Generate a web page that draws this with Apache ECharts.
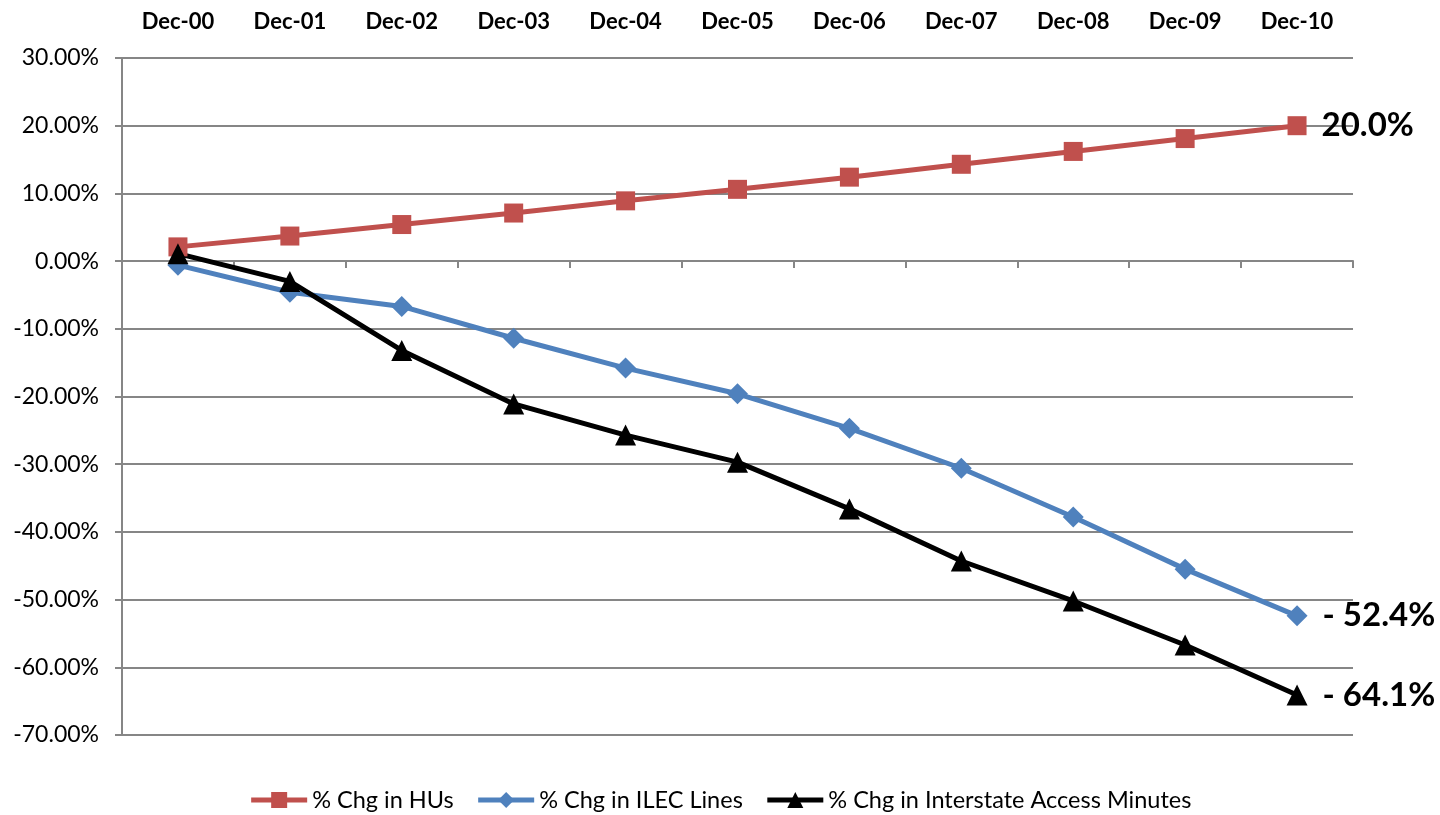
<!DOCTYPE html>
<html>
<head>
<meta charset="utf-8">
<script src="https://cdn.jsdelivr.net/npm/echarts@6/dist/echarts.min.js"></script>
<style>
html,body{margin:0;padding:0;background:#fff;}
#chart{width:1440px;height:815px;}
</style>
</head>
<body>
<div id="chart"></div>
<script>
var categories = ['Dec-00','Dec-01','Dec-02','Dec-03','Dec-04','Dec-05','Dec-06','Dec-07','Dec-08','Dec-09','Dec-10'];
var huValues = [2.1, 3.7, 5.4, 7.1, 8.9, 10.6, 12.4, 14.3, 16.2, 18.1, 20.0];
var ilecValues = [-0.6, -4.6, -6.7, -11.4, -15.8, -19.6, -24.7, -30.6, -37.8, -45.5, -52.4];
var accessValues = [1.1, -3.0, -13.2, -21.1, -25.7, -29.7, -36.6, -44.3, -50.2, -56.7, -64.1];
var seriesNames = ['% Chg in HUs', '% Chg in ILEC Lines', '% Chg in Interstate Access Minutes'];
var yTicks = {min: -70, max: 30, interval: 10};

var FONT = 'Lato, "Liberation Sans", sans-serif';
var chart = echarts.init(document.getElementById('chart'));

function endLabel(p) {
  if (p.dataIndex !== categories.length - 1) return '';
  var v = p.value;
  return v < 0 ? '- ' + Math.abs(v).toFixed(1) + '%' : v.toFixed(1) + '%';
}
function mkSeries(name, data, color, symbol, size, lw) {
  return {
    name: name, type: 'line', data: data, xAxisIndex: 0, yAxisIndex: 0,
    symbol: symbol, symbolSize: size,
    lineStyle: {color: color, width: lw},
    itemStyle: {color: color},
    label: {show: true, position: 'right', distance: 15, formatter: endLabel,
      fontFamily: FONT, fontWeight: 'bold', fontSize: 33, color: '#000'},
    emphasis: {disabled: true},
    animation: false
  };
}

chart.setOption({
  animation: false,
  grid: {left: 122, right: 87, top: 58, bottom: 80},
  legend: {
    top: 783, left: 'center', itemWidth: 56, itemHeight: 20, itemGap: 22,
    lineStyle: {width: 5},
    textStyle: {fontFamily: FONT, fontSize: 23.5, color: '#000'},
    data: seriesNames
  },
  xAxis: [
    {type: 'category', data: categories, position: 'top', boundaryGap: true,
      axisLine: {show: false, onZero: false}, axisTick: {show: false},
      axisLabel: {fontFamily: FONT, fontWeight: 'bold', fontSize: 22, color: '#000', margin: 25}},
    {type: 'category', data: categories, position: 'bottom', boundaryGap: true,
      axisLine: {show: true, onZero: true, onZeroAxisIndex: 0, lineStyle: {color: '#868686', width: 2}},
      axisTick: {show: true, length: 7, lineStyle: {color: '#868686', width: 2}},
      axisLabel: {show: false}}
  ],
  yAxis: {
    type: 'value', min: yTicks.min, max: yTicks.max, interval: yTicks.interval,
    axisLine: {show: true, lineStyle: {color: '#868686', width: 2}},
    axisTick: {show: true, length: 7, lineStyle: {color: '#868686', width: 2}},
    splitLine: {show: true, lineStyle: {color: '#868686', width: 2}},
    axisLabel: {fontFamily: FONT, fontSize: 23, color: '#000', margin: 23,
      formatter: function (v) { return v.toFixed(2) + '%'; }}
  },
  series: [
    mkSeries(seriesNames[0], huValues, '#C0504D', 'rect', 19, 5),
    mkSeries(seriesNames[1], ilecValues, '#4F81BD', 'diamond', 21, 5),
    mkSeries(seriesNames[2], accessValues, '#000000', 'triangle', 21, 5)
  ]
});
</script>
</body>
</html>
